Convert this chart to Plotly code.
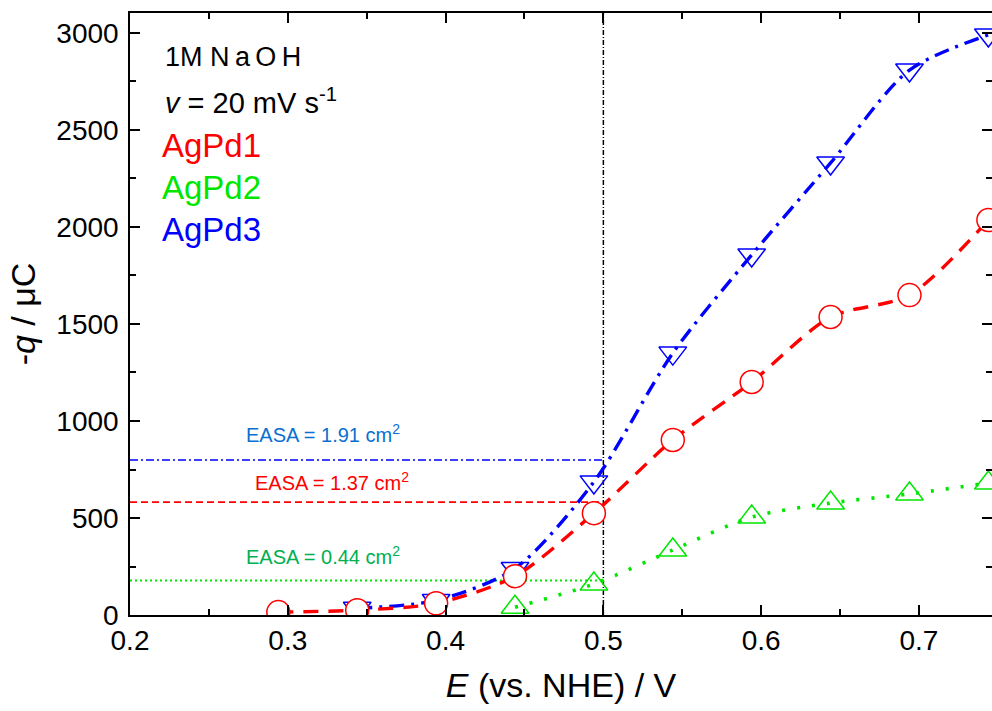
import plotly.graph_objects as go

# ---- data ----
E1 = [0.294, 0.344, 0.394, 0.444, 0.494, 0.544, 0.594, 0.644, 0.694, 0.744]
q1 = [15, 25, 60, 200, 525, 902, 1201, 1536, 1649, 2036]          # AgPd1

E2 = [0.444, 0.494, 0.544, 0.594, 0.644, 0.694, 0.744]
q2 = [40, 160, 335, 505, 577, 624, 680]                            # AgPd2

E3 = [0.344, 0.394, 0.444, 0.494, 0.544, 0.594, 0.644, 0.694, 0.744]
q3 = [35, 75, 240, 686, 1350, 1856, 2330, 2809, 2990]              # AgPd3

E_ref = [0.2, 0.5]
q_ref1 = [582, 582]
q_ref2 = [178, 178]
q_ref3 = [799, 799]
E_vline = [0.5, 0.5]
q_vline = [0, 3103]

easa_labels = ["EASA = 1.91 cm<sup>2</sup>", "EASA = 1.37 cm<sup>2</sup>", "EASA = 0.44 cm<sup>2</sup>"]
easa_x = [0.322, 0.328, 0.322]
easa_y = [938, 686, 309]

X_RANGE = [0.2, 0.7463]
Y_RANGE = [0, 3103]

FONT = "Liberation Sans, Arial, sans-serif"
RED = "#ff0000"
GREEN = "#00e600"
BLUE = "#0000ff"

fig = go.Figure()

# reference horizontal lines and vertical line
fig.add_trace(go.Scatter(x=E_ref, y=q_ref3, mode="lines",
                         line=dict(color=BLUE, width=1.6, dash="8px,3px,2px,3px"), showlegend=False))
fig.add_trace(go.Scatter(x=E_ref, y=q_ref1, mode="lines",
                         line=dict(color=RED, width=1.6, dash="7px,4px"), showlegend=False))
fig.add_trace(go.Scatter(x=E_ref, y=q_ref2, mode="lines",
                         line=dict(color=GREEN, width=2, dash="2px,3px"), showlegend=False))
fig.add_trace(go.Scatter(x=E_vline, y=q_vline, mode="lines",
                         line=dict(color="black", width=1.5, dash="5px,2px,1px,2px"), showlegend=False))

# data series
fig.add_trace(go.Scatter(x=E3, y=q3, mode="lines+markers", name="AgPd3",
                         line=dict(color=BLUE, width=3.4, shape="spline", smoothing=0.8,
                                   dash="15px,7px,3px,7px"),
                         marker=dict(symbol="triangle-down", size=24, color="rgba(255,255,255,0)",
                                     line=dict(color=BLUE, width=1.5)),
                         showlegend=False))
fig.add_trace(go.Scatter(x=E2, y=q2, mode="lines+markers", name="AgPd2",
                         line=dict(color=GREEN, width=3.6, shape="spline", smoothing=0.8,
                                   dash="3px,12px"),
                         marker=dict(symbol="triangle-up", size=24, color="rgba(255,255,255,0)",
                                     line=dict(color=GREEN, width=1.5)),
                         showlegend=False))
fig.add_trace(go.Scatter(x=E1, y=q1, mode="lines+markers", name="AgPd1",
                         line=dict(color=RED, width=3.4, shape="spline", smoothing=0.8,
                                   dash="15px,10px"),
                         marker=dict(symbol="circle", size=23, color="white",
                                     line=dict(color=RED, width=1.5)),
                         showlegend=False))

# invisible trace for right-side mirrored ticks
fig.add_trace(go.Scatter(x=[X_RANGE[0]], y=[Y_RANGE[0]], yaxis="y2", mode="markers",
                         marker=dict(opacity=0), showlegend=False, hoverinfo="skip"))

ann = []
ann.append(dict(x=0.221, y=2878, text="1M N\u2009a\u2009O\u2009H", font=dict(size=27, color="black", family=FONT)))
ann.append(dict(x=0.221, y=2650, text="<i>v</i> = 20 mV s<sup>-1</sup>", font=dict(size=29, color="black", family=FONT)))
ann.append(dict(x=0.219, y=2420, text="AgPd1", font=dict(size=33, color=RED, family=FONT)))
ann.append(dict(x=0.219, y=2202, text="AgPd2", font=dict(size=33, color=GREEN, family=FONT)))
ann.append(dict(x=0.219, y=1986, text="AgPd3", font=dict(size=33, color=BLUE, family=FONT)))
for a in ann:
    a.update(xref="x", yref="y", xanchor="left", yanchor="middle", showarrow=False)

easa_colors = ["#0a6fd0", RED, "#00b050"]
for t, x, y, c in zip(easa_labels, easa_x, easa_y, easa_colors):
    ann.append(dict(x=x, y=y, xref="x", yref="y", text=t, showarrow=False,
                    xanchor="center", yanchor="middle", font=dict(size=20, color=c, family=FONT)))

axis_common = dict(showgrid=False, zeroline=False, showline=True, linecolor="black", linewidth=1.5,
                   ticks="inside", ticklen=10, tickwidth=1.5, tickcolor="black",
                   tickfont=dict(size=28, color="black", family=FONT))

fig.update_layout(
    width=992, height=711,
    margin=dict(l=130, r=0, t=13, b=96),
    paper_bgcolor="white", plot_bgcolor="white",
    font=dict(family=FONT, color="black"),
    xaxis=dict(range=X_RANGE, dtick=0.1, tick0=0.2, mirror="ticks",
               minor=dict(dtick=0.05, ticks="inside", ticklen=6, tickwidth=1.5, tickcolor="black"),
               title=dict(text="<i>E</i> (vs. NHE) / V", font=dict(size=34, family=FONT), standoff=18),
               **axis_common),
    yaxis=dict(range=Y_RANGE, dtick=500, tick0=0, ticklabelstandoff=4,
               minor=dict(dtick=250, ticks="inside", ticklen=6, tickwidth=1.5, tickcolor="black"),
               title=dict(text="-<i>q</i> / \u03bcC", font=dict(size=34, family=FONT), standoff=10),
               **axis_common),
    yaxis2=dict(range=Y_RANGE, overlaying="y", side="right", anchor="x", showgrid=False, zeroline=False,
                showline=False, ticks="inside", ticklen=10, tickwidth=1.5, tickcolor="black",
                dtick=500, tick0=0, showticklabels=False,
                minor=dict(dtick=250, ticks="inside", ticklen=6, tickwidth=1.5, tickcolor="black")),
    annotations=ann,
)

fig.write_html("out.html")
